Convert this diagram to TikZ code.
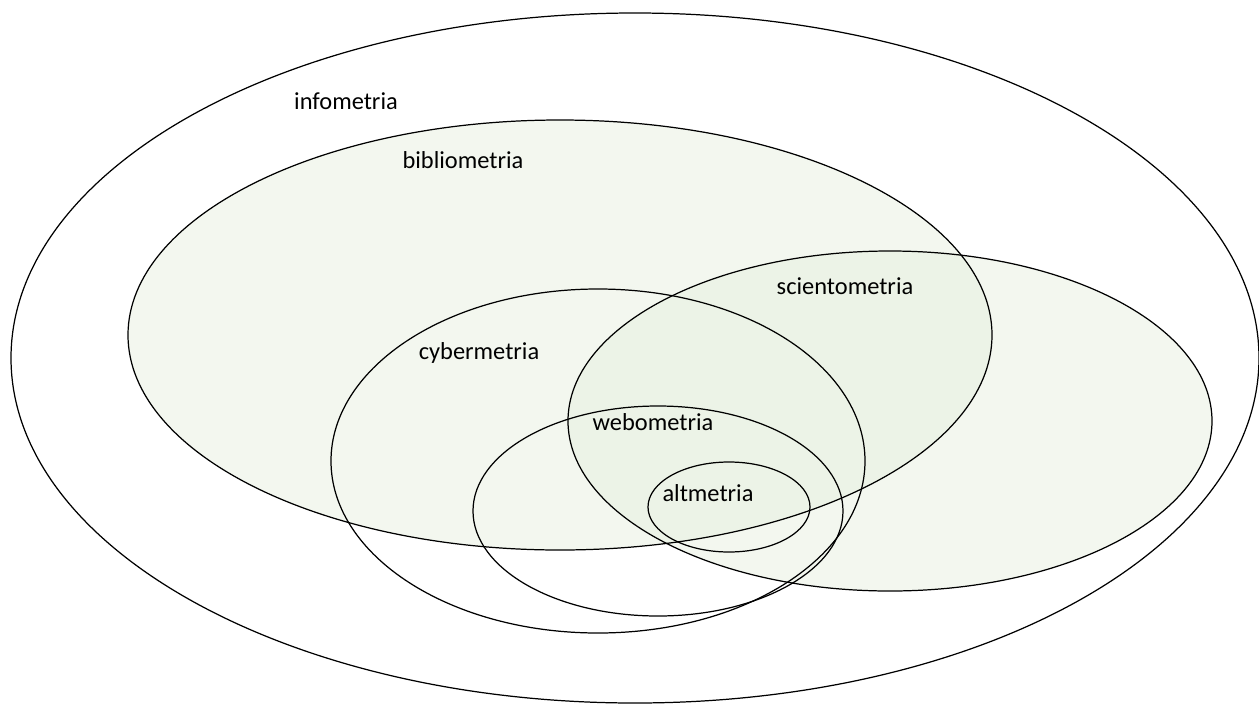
\documentclass[tikz,border=0pt]{standalone}
\usepackage{fontspec}
\setmainfont{Carlito}
\usepackage{tikz}

\begin{document}
\begin{tikzpicture}[x=0.02cm, y=-0.02cm, line width=0.7pt]
    \useasboundingbox (0,0) rectangle (1259,704);
    \tikzset{field/.style={fill={rgb,255:red,228;green,238;blue,220}, fill opacity=0.45}}
    \tikzset{lbl/.style={font=\fontsize{13.9pt}{16pt}\selectfont, inner sep=0pt}}
    \fill[field] (560,335) ellipse [x radius=432, y radius=215];
    \fill[field] (890,421) ellipse [x radius=322, y radius=170];
    \draw (635,358) ellipse [x radius=624, y radius=345];
    \draw (560,335) ellipse [x radius=432, y radius=215];
    \draw (890,421) ellipse [x radius=322, y radius=170];
    \draw (598,461) ellipse [x radius=267, y radius=172];
    \draw (658,511) ellipse [x radius=185, y radius=105];
    \draw (729,507) ellipse [x radius=81, y radius=45];
    \node[lbl] at (346,101) (info) {infometria};
    \node[lbl] at (463,160) (biblio) {bibliometria};
    \node[lbl] at (845,286) (ciento) {scientometria};
    \node[lbl] at (479,353) (ciber) {cybermetria};
    \node[lbl] at (653,422) (webo) {webometria};
    \node[lbl] at (708,493) (alt) {altmetria};
\end{tikzpicture}
\end{document}
